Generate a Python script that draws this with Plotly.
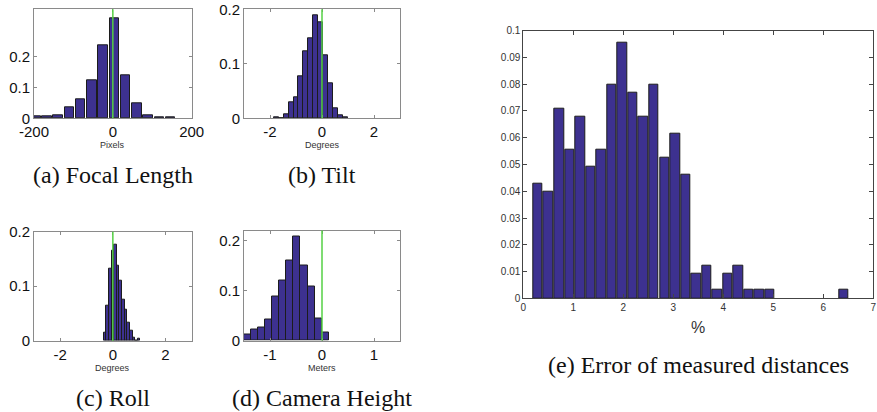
import plotly.graph_objects as go

# ---------------- data ----------------
focal_centers = [-195, -167, -139, -110, -82, -53, -25, 4, 32, 61, 89, 118, 146]
focal_values = [0.0054, 0.0075, 0.0108, 0.0355, 0.0613, 0.1226, 0.2366, 0.3226, 0.1398, 0.0473, 0.0097, 0.003, 0.002]

tilt_centers = [-1.76, -1.57, -1.38, -1.19, -1.00, -0.81, -0.62, -0.43, -0.24, -0.05, 0.14, 0.33, 0.52, 0.71, 0.90]
tilt_values = [0.0024, 0.0, 0.008, 0.0285, 0.038, 0.0776, 0.1236, 0.147, 0.189, 0.177, 0.115, 0.064, 0.018, 0.005, 0.001]

roll_centers = [-0.3, -0.2, -0.1, 0.0, 0.1, 0.2, 0.3, 0.4, 0.5, 0.6, 0.7, 0.8, 0.9, 1.0]
roll_values = [0.0145, 0.0635, 0.132, 0.1655, 0.177, 0.1385, 0.1105, 0.0755, 0.0575, 0.033, 0.019, 0.006, 0.0, 0.004]

height_centers = [-1.432, -1.296, -1.161, -1.025, -0.889, -0.754, -0.618, -0.482, -0.346, -0.211, -0.075, 0.061]
height_values = [0.0114, 0.0229, 0.0263, 0.0418, 0.0889, 0.1205, 0.1596, 0.2074, 0.1495, 0.1077, 0.0444, 0.0155]

err_centers = [0.29, 0.50, 0.72, 0.93, 1.14, 1.35, 1.56, 1.77, 1.98, 2.19, 2.40, 2.61, 2.83, 3.04,
               3.25, 3.46, 3.67, 3.88, 4.09, 4.30, 4.51, 4.72, 4.93, 6.41]
err_values = [0.043, 0.040, 0.071, 0.0555, 0.068, 0.049, 0.0555, 0.080, 0.0955, 0.077, 0.068, 0.080, 0.0525, 0.0615,
              0.0463, 0.0093, 0.0123, 0.0031, 0.0093, 0.0123, 0.0031, 0.0031, 0.0031, 0.0031]

captions = ["(a) Focal Length", "(b) Tilt", "(c) Roll", "(d) Camera Height", "(e) Error of measured distances"]
axis_titles = ["Pixels", "Degrees", "Degrees", "Meters", "%"]

# ---------------- styling / layout constants ----------------
W, H = 877, 412
BAR_FILL = "#3d3190"
BAR_EDGE = "#1c1c1c"
GREEN = "#55d044"
FRAME = "#8a8a8a"
SANS = "Liberation Sans"
SERIF = "Liberation Serif"

def dom_x(x0, x1):
    return [x0 / W, x1 / W]

def dom_y(y0, y1):
    return [1 - y1 / H, 1 - y0 / H]

# pixel boxes of the five plot areas (left, right, top, bottom)
boxes = [
    (34, 191.7, 9.3, 118.3),
    (244, 400, 9.3, 118.3),
    (34, 191.7, 231.7, 340.7),
    (244, 400, 230.5, 340.5),
    (523.3, 873.3, 30.7, 298.3),
]

fig = go.Figure()

series = [
    (focal_centers, focal_values, 28.45 * 0.86),
    (tilt_centers, tilt_values, 0.19),
    (roll_centers, roll_values, 0.1),
    (height_centers, height_values, 0.1357),
    (err_centers, err_values, 0.211 * 0.87),
]

for i, (xs, ys, w) in enumerate(series):
    ax = "" if i == 0 else str(i + 1)
    fig.add_trace(go.Bar(
        x=xs, y=ys, width=w,
        marker=dict(color=BAR_FILL, line=dict(color=BAR_EDGE, width=1)),
        xaxis="x" + ax, yaxis="y" + ax, showlegend=False,
    ))

x_ranges = [[-200, 200], [-3, 3], [-3, 3], [-1.5, 1.5], [0, 7]]
y_ranges = [[0, 0.352], [0, 0.2], [0, 0.2], [0, 0.22], [0, 0.1]]
x_ticks = [[-200, 0, 200], [-2, 0, 2], [-2, 0, 2], [-1, 0, 1], [0, 1, 2, 3, 4, 5, 6, 7]]
y_ticks = [[0, 0.1, 0.2], [0, 0.1, 0.2], [0, 0.1, 0.2], [0, 0.1, 0.2],
           [0, 0.01, 0.02, 0.03, 0.04, 0.05, 0.06, 0.07, 0.08, 0.09, 0.1]]

layout = dict(
    width=W, height=H,
    margin=dict(l=0, r=0, t=0, b=0, autoexpand=False),
    paper_bgcolor="white", plot_bgcolor="white",
    bargap=0, showlegend=False,
    font=dict(family=SANS, color="#222"),
)

annotations = []
shapes = []
for i, (l, r, t, b) in enumerate(boxes):
    ax = "" if i == 0 else str(i + 1)
    big = i == 4
    tick_font = dict(family=SANS, size=10 if big else 15, color="#333" if big else "#111")
    common = dict(
        showline=True, linecolor=FRAME if not big else "#444", linewidth=1,
        mirror="ticks", ticks="inside", ticklen=3 if not big else 4,
        tickcolor=FRAME if not big else "#444", automargin=False,
        showgrid=False, zeroline=False, fixedrange=True, tickfont=tick_font,
    )
    layout["xaxis" + ax] = dict(
        domain=dom_x(l, r), range=x_ranges[i], tickvals=x_ticks[i],
        ticktext=[("%g" % v) for v in x_ticks[i]],
        anchor="y" + ax, **common,
    )
    layout["yaxis" + ax] = dict(
        domain=dom_y(t, b), range=y_ranges[i], tickvals=y_ticks[i],
        ticktext=[("%g" % v) for v in y_ticks[i]],
        anchor="x" + ax, **common,
    )
    # axis title
    annotations.append(dict(
        text=axis_titles[i], xref="paper", yref="paper",
        x=(l + r) / 2 / W, y=1 - (b + (29 if big else 27)) / H,
        showarrow=False, font=dict(family=SANS, size=16 if big else 9, color="#333"),
        xanchor="center", yanchor="middle",
    ))
    # caption
    cap_y = b + (67 if big else 57)
    annotations.append(dict(
        text=captions[i], xref="paper", yref="paper",
        x=(l + r) / 2 / W, y=1 - cap_y / H,
        showarrow=False, font=dict(family=SERIF, size=24, color="#111"),
        xanchor="center", yanchor="middle",
    ))
    if not big:
        shapes.append(dict(
            type="line", xref="x" + ax, yref="y" + ax + " domain",
            x0=0, x1=0, y0=0, y1=1, line=dict(color=GREEN, width=1.5), layer="above",
        ))

layout["annotations"] = annotations
layout["shapes"] = shapes
fig.update_layout(**layout)

fig.write_html("out.html")
